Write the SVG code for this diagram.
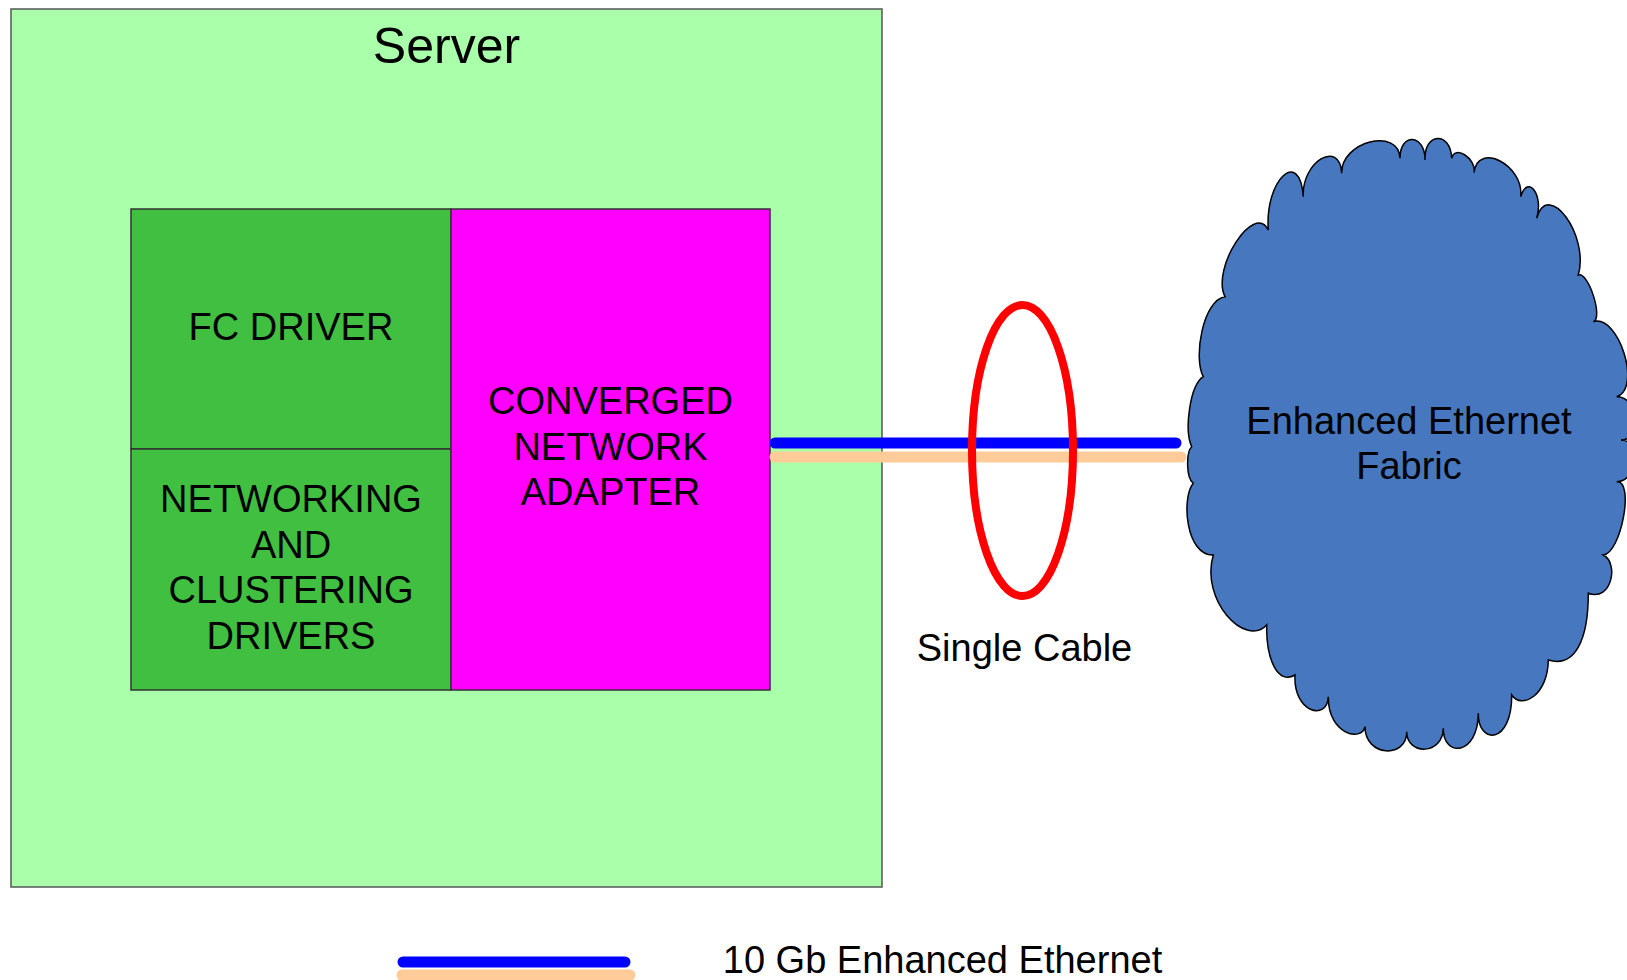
<svg xmlns="http://www.w3.org/2000/svg" width="1627" height="980" viewBox="0 0 1627 980">
<style>
.t{font-family:"Liberation Sans",Arial,sans-serif;fill:#000;text-anchor:middle;font-size:38px}
.box{stroke:#333;stroke-width:1.5}
.cable{fill:none;stroke-linecap:round;stroke-width:11}
.blue{stroke:#0000FF}
.peach{stroke:#FFCC99}
</style>
<rect width="1627" height="980" fill="#FFFFFF"/>
<g id="server">
<rect x="11" y="9" width="871" height="878" fill="#AAFFAA" stroke="#555" stroke-width="1.5"/>
<text class="t" x="446.5" y="63" style="font-size:50px">Server</text>
</g>
<g id="fc-driver">
<rect class="box" x="131" y="209" width="320" height="240" fill="#40BF40"/>
<text class="t" x="291" y="340">FC DRIVER</text>
</g>
<g id="networking-drivers">
<rect class="box" x="131" y="449" width="320" height="241" fill="#40BF40"/>
<text class="t" x="291"><tspan x="291" y="512">NETWORKING</tspan><tspan x="291" y="558">AND</tspan><tspan x="291" y="603">CLUSTERING</tspan><tspan x="291" y="649">DRIVERS</tspan></text>
</g>
<g id="cna">
<rect class="box" x="451" y="209" width="319" height="481" fill="#FF00FF"/>
<text class="t" x="610.5"><tspan x="610.5" y="414">CONVERGED</tspan><tspan x="610.5" y="460">NETWORK</tspan><tspan x="610.5" y="505">ADAPTER</tspan></text>
</g>
<g id="fabric">
<path fill="#4677BF" stroke="#000" stroke-width="1.5" stroke-linejoin="miter" d="M1225,296.7 C1210.8,268.3 1254.1,201.6 1268.3,230 C1264.6,180.3 1299.6,147 1303.3,196.7 C1301.3,162 1339.7,138.6 1341.7,173.3 C1340.6,141.6 1398.9,126.6 1400,158.3 C1400,132 1425,133.7 1425,160 C1423.8,132.4 1450.5,130.7 1451.7,158.3 C1454.5,144.3 1476.8,158.7 1474,172.7 C1477.5,141.1 1524.2,165.1 1520.7,196.7 C1527.8,173.4 1543.8,195 1536.7,218.3 C1548,178.7 1589.6,235.4 1578.3,275 C1588.5,271.7 1603.5,318.4 1593.3,321.7 C1618.7,313.7 1642.1,388.7 1616.7,396.7 C1638.2,396.2 1642.5,439.5 1621,440 C1642.5,440.1 1638.2,481.8 1616.7,481.7 C1634.7,479.8 1621.3,553.1 1603.3,555 C1619,563 1612,602 1588.3,593.3 C1588.3,640 1575,668 1548.3,660 C1548,695 1522,710 1511.7,695 C1512,745 1478,745 1478.3,713.3 C1478,756 1443,758 1443.3,728.3 C1443,755 1407,756 1406.7,731.7 C1407,759 1365,757 1365,726.7 C1362,742 1328,735 1328.3,696.7 C1327,722 1293,712 1295,675 C1278,685 1266,660 1266.7,625 C1245,648 1200,600 1213.3,555 C1186,556 1181,498 1193.3,483.3 C1186,478 1186,452 1191.7,446.7 C1184,430 1190,385 1203.3,376.7 C1193,358 1203,300 1225,296.7 Z"/>
<text class="t" x="1409"><tspan x="1409" y="434">Enhanced Ethernet</tspan><tspan x="1409" y="479">Fabric</tspan></text>
</g>
<g id="connectors">
<line class="cable peach" x1="775" y1="457" x2="1181" y2="457"/>
<line class="cable blue" x1="775" y1="443" x2="1176" y2="443"/>
<ellipse cx="1022.5" cy="450.5" rx="50.5" ry="145.5" fill="none" stroke="#FF0000" stroke-width="8"/>
</g>
<g id="single-cable-label">
<text class="t" x="1024.5" y="661">Single Cable</text>
</g>
<g id="legend">
<line class="cable peach" x1="402" y1="975" x2="630" y2="975"/>
<line class="cable blue" x1="403" y1="962" x2="625" y2="962"/>
<text class="t" x="942.5" y="973">10 Gb Enhanced Ethernet</text>
</g>
</svg>
